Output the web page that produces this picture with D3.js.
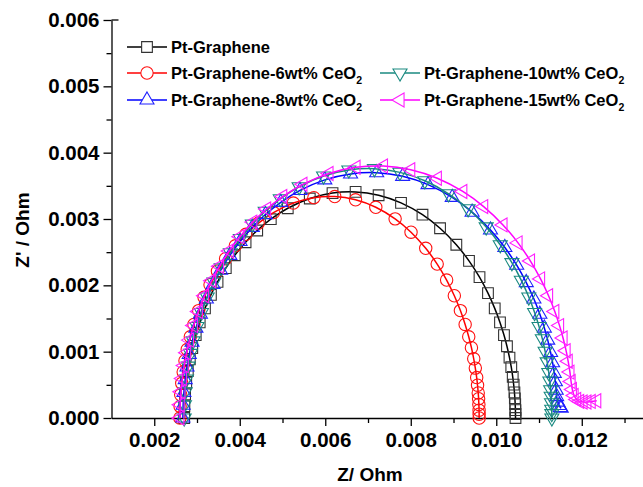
<!DOCTYPE html>
<html>
<head>
<meta charset="utf-8">
<script src="https://cdn.jsdelivr.net/npm/d3@7"></script>
<style>
  html, body { margin: 0; padding: 0; background: #fff; }
  svg { display: block; }
  text { font-family: "Liberation Sans", Arial, sans-serif; font-weight: bold; fill: #000; }
</style>
</head>
<body>
<svg id="chart" width="643" height="487"></svg>
<script>
// Nyquist data: [Z (Ohm), Z' (Ohm)]
const ptGraphene = [[0.00270,0],[0.002705,0.000178],[0.002721,0.000356],[0.002748,0.000533],[0.002785,0.000709],[0.002832,0.000883],[0.002889,0.001054],[0.002970,0.001250],[0.003063,0.001441],[0.003186,0.001653],[0.003325,0.001857],[0.003480,0.002052],[0.003673,0.002259],[0.003883,0.002453],[0.004136,0.002650],[0.004408,0.002827],[0.004726,0.002997],[0.005123,0.003162],[0.005638,0.003309],[0.006170,0.003391],[0.006710,0.003408],[0.007248,0.003358],[0.007772,0.003243],[0.008274,0.003065],[0.008685,0.002860],[0.009066,0.002612],[0.009362,0.002369],[0.009608,0.002123],[0.009806,0.001882],[0.009964,0.001653],[0.010087,0.001441],[0.010180,0.001250],[0.010250,0.001082],[0.010309,0.000911],[0.010351,0.000767],[0.010385,0.000621],[0.010407,0.000504],[0.010425,0.000386],[0.010435,0.000297],[0.010443,0.000208],[0.010448,0.000119],[0.010449,0.000060],[0.010450,0]];

const ptCeO2_6 = [[0.002600,0],[0.002605,0.000175],[0.002619,0.000349],[0.002643,0.000522],[0.002677,0.000694],[0.002719,0.000864],[0.002771,0.001032],[0.002844,0.001224],[0.002928,0.001411],[0.003039,0.001619],[0.003165,0.001819],[0.003305,0.002010],[0.003478,0.002213],[0.003669,0.002402],[0.003897,0.002596],[0.004143,0.002769],[0.004430,0.002935],[0.004789,0.003097],[0.005253,0.003241],[0.005734,0.003322],[0.006222,0.003338],[0.006708,0.003289],[0.007182,0.003177],[0.007634,0.003002],[0.008006,0.002801],[0.008350,0.002558],[0.008618,0.002320],[0.008839,0.002079],[0.009019,0.001843],[0.009161,0.001619],[0.009272,0.001411],[0.009356,0.001224],[0.009419,0.001060],[0.009473,0.000892],[0.009510,0.000752],[0.009542,0.000609],[0.009562,0.000494],[0.009578,0.000378],[0.009587,0.000291],[0.009593,0.000204],[0.009598,0.000117],[0.009599,0.000058],[0.009600,0]];

const ptCeO2_8 = [[0.002670,0],[0.002676,0.000194],[0.002694,0.000387],[0.002724,0.000579],[0.002766,0.000769],[0.002819,0.000958],[0.002884,0.001143],[0.002975,0.001356],[0.003080,0.001564],[0.003219,0.001794],[0.003376,0.002015],[0.003552,0.002227],[0.003769,0.002452],[0.004007,0.002661],[0.004294,0.002875],[0.004601,0.003067],[0.004960,0.003252],[0.005409,0.003431],[0.005990,0.003590],[0.006592,0.003680],[0.007203,0.003698],[0.007810,0.003644],[0.008403,0.003519],[0.008970,0.003326],[0.009435,0.003103],[0.009865,0.002834],[0.010201,0.002570],[0.010478,0.002303],[0.010702,0.002042],[0.010881,0.001794],[0.011020,0.001564],[0.011125,0.001356],[0.011204,0.001174],[0.011271,0.000989],[0.011318,0.000833],[0.011357,0.000674],[0.011382,0.000547],[0.011402,0.000419],[0.011413,0.000323],[0.011440,0.000240],[0.011470,0.000190],[0.011500,0.000160],[0.011520,0.000150]];

const ptCeO2_10 = [[0.002700,0],[0.002706,0.000197],[0.002724,0.000393],[0.002753,0.000588],[0.002794,0.000782],[0.002847,0.000973],[0.002910,0.001162],[0.002999,0.001378],[0.003103,0.001589],[0.003239,0.001823],[0.003394,0.002048],[0.003566,0.002263],[0.003779,0.002491],[0.004013,0.002705],[0.004294,0.002922],[0.004595,0.003117],[0.004948,0.003304],[0.005389,0.003486],[0.005960,0.003648],[0.006551,0.003739],[0.007150,0.003758],[0.007746,0.003703],[0.008329,0.003576],[0.008885,0.003379],[0.009342,0.003154],[0.009764,0.002880],[0.010093,0.002612],[0.010365,0.002341],[0.010586,0.002075],[0.010761,0.001823],[0.010897,0.001589],[0.011001,0.001378],[0.011078,0.001193],[0.011143,0.001005],[0.011190,0.000846],[0.011228,0.000685],[0.011253,0.000556],[0.011272,0.000426],[0.011284,0.000328],[0.011292,0.000229],[0.011297,0.000131],[0.011299,0.000066],[0.011300,0]];

const ptCeO2_15 = [[0.002600,0],[0.002606,0.000199],[0.002625,0.000397],[0.002657,0.000594],[0.002701,0.000790],[0.002757,0.000983],[0.002825,0.001174],[0.002920,0.001393],[0.003031,0.001606],[0.003177,0.001842],[0.003342,0.002069],[0.003526,0.002287],[0.003755,0.002518],[0.004004,0.002733],[0.004305,0.002953],[0.004628,0.003150],[0.005005,0.003339],[0.005477,0.003523],[0.006087,0.003687],[0.006719,0.003779],[0.007361,0.003798],[0.007999,0.003742],[0.008621,0.003614],[0.009217,0.003415],[0.009705,0.003187],[0.010157,0.002911],[0.010509,0.002640],[0.010800,0.002366],[0.011036,0.002097],[0.011223,0.001842],[0.011369,0.001606],[0.011480,0.001393],[0.011562,0.001206],[0.011633,0.001015],[0.011682,0.000855],[0.011723,0.000692],[0.011750,0.000550],[0.011780,0.000430],[0.011820,0.000340],[0.011880,0.000280],[0.011950,0.000250],[0.012030,0.000240],[0.012120,0.000240],[0.012220,0.000250],[0.012350,0.000260]];

const seriesNames = ["Pt-Graphene", "Pt-Graphene-6wt% CeO", "Pt-Graphene-8wt% CeO", "Pt-Graphene-10wt% CeO", "Pt-Graphene-15wt% CeO"];
const xTickValues = [0.002, 0.004, 0.006, 0.008, 0.010, 0.012];
const xMinorValues = [0.003, 0.005, 0.007, 0.009, 0.011, 0.013];
const yTickValues = [0.000, 0.001, 0.002, 0.003, 0.004, 0.005, 0.006];
const yMinorValues = [0.0005, 0.0015, 0.0025, 0.0035, 0.0045, 0.0055];

const svg = d3.select("#chart");

const x = d3.scaleLinear().domain([0.001, 0.0135]).range([111.5, 645.9]);
const y = d3.scaleLinear().domain([0, 0.006]).range([418, 20]);

// series styling
const series = [
  { name: seriesNames[0], data: ptGraphene, color: "#000000", mark: "#333333", sym: d3.symbolSquare, size: 115, rot: 0, sub: false },
  { name: seriesNames[1], data: ptCeO2_6, color: "#ff0000", mark: "#ff1010", sym: d3.symbolCircle, size: 120, rot: 0, sub: true },
  { name: seriesNames[2], data: ptCeO2_8, color: "#0000ff", mark: "#2020ff", sym: d3.symbolTriangle, size: 85, rot: 0, sub: true },
  { name: seriesNames[3], data: ptCeO2_10, color: "#1a8a80", mark: "#1a8a80", sym: d3.symbolTriangle, size: 85, rot: 180, sub: true },
  { name: seriesNames[4], data: ptCeO2_15, color: "#ff00ff", mark: "#ff20ff", sym: d3.symbolTriangle, size: 85, rot: -90, sub: true }
];

// axes
const axisG = svg.append("g");
const yAxis = axisG.append("g").attr("transform", `translate(${x(0.001)},0)`)
  .call(d3.axisLeft(y).tickValues(yTickValues).tickSize(8).tickSizeOuter(0).tickPadding(4).tickFormat(d3.format(".3f")));
const yMinor = axisG.append("g").attr("transform", `translate(${x(0.001)},0)`)
  .call(d3.axisLeft(y).tickValues(yMinorValues).tickSize(5).tickSizeOuter(0).tickFormat(""));
const xAxis = axisG.append("g").attr("transform", `translate(0,${y(0)})`)
  .call(d3.axisBottom(x).tickValues(xTickValues).tickSize(8).tickSizeOuter(0).tickPadding(6).tickFormat(d3.format(".3f")));
const xMinor = axisG.append("g").attr("transform", `translate(0,${y(0)})`)
  .call(d3.axisBottom(x).tickValues(xMinorValues).tickSize(5).tickSizeOuter(0).tickFormat(""));
// short inward cap at the top of the y axis
axisG.append("line")
  .attr("x1", x(0.001)).attr("x2", x(0.001) + 7)
  .attr("y1", y(0.006)).attr("y2", y(0.006))
  .attr("stroke", "#000").attr("stroke-width", 1.3);

axisG.selectAll(".domain, .tick line").attr("stroke", "#000").attr("stroke-width", 1.3);
xMinor.select(".domain").remove();
yMinor.select(".domain").remove();
axisG.selectAll(".tick text").style("font-size", "20.5px").attr("fill", "#000");

// axis titles
svg.append("text").attr("x", 370).attr("y", 481).attr("text-anchor", "middle")
  .style("font-size", "19px").text("Z/ Ohm");
svg.append("text").attr("transform", "translate(29,230) rotate(-90)").attr("text-anchor", "middle")
  .style("font-size", "19px").text("Z' / Ohm");

// curves and markers
const line = d3.line().x(d => x(d[0])).y(d => y(d[1])).curve(d3.curveCatmullRom.alpha(0.5));
const plot = svg.append("g");
series.forEach(s => {
  const g = plot.append("g");
  g.append("path").datum(s.data).attr("d", line)
    .attr("fill", "none").attr("stroke", s.color).attr("stroke-width", 1.5);
  g.selectAll("path.m").data(s.data).join("path").attr("class", "m")
    .attr("d", d3.symbol().type(s.sym).size(s.size))
    .attr("transform", d => `translate(${x(d[0])},${y(d[1])}) rotate(${s.rot})`)
    .attr("fill", "none").attr("stroke", s.mark).attr("stroke-width", 1.1);
});

// legend
const legendRows = [
  { s: series[0], lx: 127, ly: 47 },
  { s: series[1], lx: 127, ly: 73 },
  { s: series[3], lx: 380, ly: 73 },
  { s: series[2], lx: 127, ly: 100 },
  { s: series[4], lx: 380, ly: 100 }
];
const legend = svg.append("g");
legendRows.forEach(r => {
  const g = legend.append("g").attr("transform", `translate(${r.lx},${r.ly})`);
  g.append("line").attr("x1", 0).attr("x2", 40).attr("y1", 0).attr("y2", 0)
    .attr("stroke", r.s.color).attr("stroke-width", 1.5);
  g.append("path").attr("d", d3.symbol().type(r.s.sym).size(r.s.size))
    .attr("transform", `translate(20,0) rotate(${r.s.rot})`)
    .attr("fill", "#fff").attr("stroke", r.s.mark).attr("stroke-width", 1.1);
  const t = g.append("text").attr("x", 44).attr("y", 6).style("font-size", "16.5px").text(r.s.name);
  if (r.s.sub) t.append("tspan").attr("dy", 5).style("font-size", "10.5px").text("2");
});
</script>
</body>
</html>
